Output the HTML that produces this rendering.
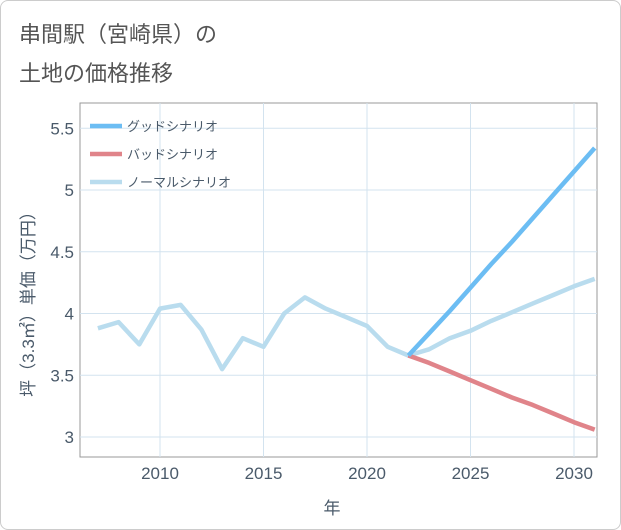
<!DOCTYPE html>
<html><head><meta charset="utf-8">
<style>
html,body{margin:0;padding:0;background:#fff;}
body{width:621px;height:530px;overflow:hidden;font-family:"Liberation Sans","Noto Sans CJK JP",sans-serif;}
#wrap{position:absolute;left:0;top:0;width:619px;height:528px;border:1px solid #ccc;border-radius:8px;}
.title{position:absolute;left:18px;color:#555;font-size:22px;font-family:"Liberation Sans","Noto Sans CJK JP",sans-serif;}
</style></head><body>
<div id="wrap">
<div class="title" style="top:16px">串間駅（宮崎県）の</div>
<div class="title" style="top:55px">土地の価格推移</div>
<svg id="chart" width="621" height="530" style="position:absolute;left:-1px;top:-1px"></svg>
</div>
<script>
const years=[2007,2008,2009,2010,2011,2012,2013,2014,2015,2016,2017,2018,2019,2020,2021,2022,2023,2024,2025,2026,2027,2028,2029,2030,2031];
const normalVals=[3.88,3.93,3.75,4.04,4.07,3.87,3.55,3.80,3.73,4.00,4.13,4.04,3.97,3.90,3.73,3.66,3.71,3.80,3.86,3.94,4.01,4.08,4.15,4.22,4.28];
const futureYears=[2022,2023,2024,2025,2026,2027,2028,2029,2030,2031];
const goodVals=[3.66,3.84,4.02,4.21,4.40,4.58,4.77,4.96,5.15,5.34];
const badVals=[3.66,3.60,3.53,3.46,3.39,3.32,3.26,3.19,3.12,3.06];
const xTicks=[2010,2015,2020,2025,2030];
const yTicks=[3,3.5,4,4.5,5,5.5];
const yTickLabels=["3","3.5","4","4.5","5","5.5"];

const L=80,R=597,T=103,B=457;
const xs=y=>160+(y-2010)*20.7;
const ys=v=>437-(v-3)*123.5;
const svg=document.getElementById('chart');
const NS='http://www.w3.org/2000/svg';
function mk(t,a,p){const e=document.createElementNS(NS,t);for(const k in a)e.setAttribute(k,a[k]);(p||svg).appendChild(e);return e;}
mk('rect',{x:L,y:T,width:R-L,height:B-T,fill:'#fff',stroke:'#999','stroke-width':1});
xTicks.forEach(t=>{
 const g=mk('line',{x1:xs(t),x2:xs(t),y1:T,y2:B,stroke:'#d3e3ef','stroke-width':1});
 
 const tx=mk('text',{x:xs(t),y:479,'text-anchor':'middle','font-size':17,fill:'#4a5a6a'});
 tx.textContent=t;
 
});
yTicks.forEach((t,i)=>{
 const g=mk('line',{x1:L,x2:R,y1:ys(t),y2:ys(t),stroke:'#d3e3ef','stroke-width':1});
 
 const tx=mk('text',{x:74,y:ys(t)+6,'text-anchor':'end','font-size':17,fill:'#4a5a6a'});
 tx.textContent=yTickLabels[i];
 
});
const clip=mk('clipPath',{id:'pc'});mk('rect',{x:L,y:T,width:R-L,height:B-T},clip);
function line(xv,yv,color,name){
 const d=xv.map((x,i)=>(i?'L':'M')+xs(x).toFixed(1)+','+ys(yv[i]).toFixed(1)).join('');
 const p=mk('path',{d:d,fill:'none',stroke:color,'stroke-width':4.5,'stroke-linejoin':'round','clip-path':'url(#pc)'});
 
}
line(years,normalVals,'#b9dcee','normal-scenario-line');
line(futureYears,badVals,'#e0848a','bad-scenario-line');
line(futureYears,goodVals,'#6cbdf3','good-scenario-line');
const leg=[['グッドシナリオ','#6cbdf3',126],['バッドシナリオ','#e0848a',154],['ノーマルシナリオ','#b9dcee',182]];
leg.forEach(l=>{
 const s=mk('line',{x1:90,x2:122,y1:l[2],y2:l[2],stroke:l[1],'stroke-width':4.5});
 
 const t=mk('text',{x:127,y:l[2]+5,'font-size':13,fill:'#4a5a6a'});t.textContent=l[0];
 
});
const xt=mk('text',{x:332,y:514,'text-anchor':'middle','font-size':17,fill:'#4a5a6a'});xt.textContent='年';

const yt=mk('text',{x:0,y:0,'text-anchor':'middle','font-size':17,fill:'#4a5a6a',transform:'translate(34,300) rotate(-90)'});yt.textContent='坪（3.3㎡）単価（万円）';

</script>
</body></html>
